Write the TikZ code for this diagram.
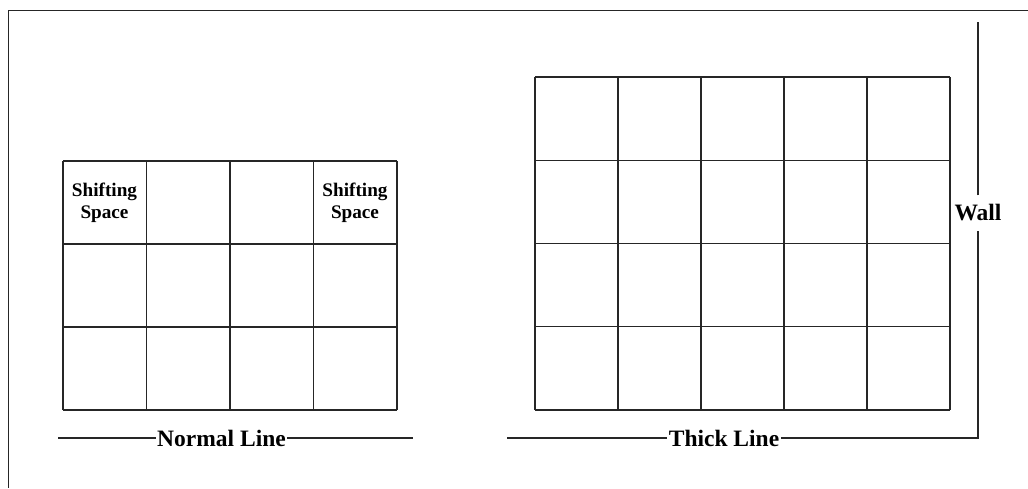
\documentclass[tikz,border=0pt]{standalone}
\usepackage{fontspec}
\setmainfont{Liberation Serif}
\begin{document}
\begin{tikzpicture}[x=1pt,y=-1pt,
  frameline/.style={line width=1.6pt, black!85},
  gridline/.style={line width=1.3pt, black!85},
  rule/.style={line width=1.3pt, black!85},
  caption/.style={font=\fontsize{23.5}{27}\selectfont\bfseries, inner xsep=1.5pt, inner ysep=2pt},
  cellnote/.style={font=\fontsize{19.2}{22}\selectfont\bfseries, align=center}]
\useasboundingbox (0,0) rectangle (1028,488);

% outer frame (top and left edges)
\draw[frameline] (1028,10.5) -- (8.5,10.5) -- (8.5,488);

% normal-line grid: 4 columns x 3 rows
\foreach \i in {0,...,4}
  \draw[gridline] ({63+83.5*\i},161) -- ({63+83.5*\i},410);
\foreach \j in {0,...,3}
  \draw[gridline] (63,{161+83*\j}) -- (397,{161+83*\j});

\node[cellnote] (shiftL) at (104.5,202.5) {Shifting\\Space};
\node[cellnote] (shiftR) at (355,202.5) {Shifting\\Space};

% thick-line grid: 5 columns x 4 rows
\foreach \i in {0,...,5}
  \draw[gridline] ({535+83*\i},77) -- ({535+83*\i},410);
\foreach \j in {0,...,4}
  \draw[gridline] (535,{77+83.25*\j}) -- (950,{77+83.25*\j});

% captions
\node[caption] (normal) at (221.5,438) {Normal Line};
\coordinate (nA) at (58,438);
\coordinate (nB) at (413,438);
\draw[rule] (nA) -- (normal.west);
\draw[rule] (normal.east) -- (nB);

\node[caption] (thick) at (724,438) {Thick Line};
\coordinate (tA) at (507,438);
\coordinate (corner) at (978,438);
\coordinate (wallTop) at (978,22);
\node[caption, inner ysep=9pt] (wall) at (978,213) {Wall};
\draw[rule] (tA) -- (thick.west);
\draw[rule] (thick.east) -- (corner) -- (wall.south);
\draw[rule] (wall.north) -- (wallTop);
\end{tikzpicture}
\end{document}
